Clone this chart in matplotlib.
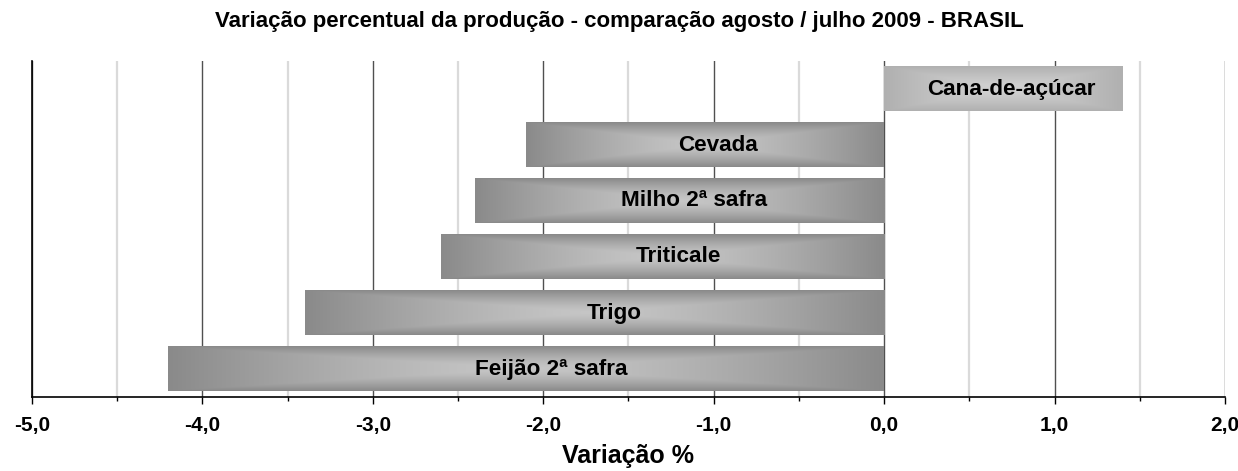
import numpy as np
import matplotlib
matplotlib.use('Agg')
import matplotlib.pyplot as plt
from matplotlib.ticker import FixedLocator, MultipleLocator

# ---- data ----
categories = ['Cana-de-açúcar', 'Cevada', 'Milho 2ª safra', 'Triticale', 'Trigo', 'Feijão 2ª safra']
values = [1.4, -2.1, -2.4, -2.6, -3.4, -4.2]
xticks = [-5, -4, -3, -2, -1, 0, 1, 2]
xtick_labels = ['-5,0', '-4,0', '-3,0', '-2,0', '-1,0', '0,0', '1,0', '2,0']
title = 'Variação percentual da produção - comparação agosto / julho 2009 - BRASIL'
xlabel = 'Variação %'

plt.rcParams['font.family'] = ['Liberation Sans', 'DejaVu Sans']

W, H = 1238, 471
fig = plt.figure(figsize=(W / 100, H / 100), dpi=100)
ax = fig.add_axes([32 / W, 1 - 397 / H, (1225 - 32) / W, (397 - 61) / H])

y = np.arange(len(categories))
bars = ax.barh(y, values, height=0.786, color='none', edgecolor='none', zorder=2)


def gradient(edge, center, nx=300, ny=60, p=1.0):
    u = np.linspace(-1, 1, nx)
    v = np.linspace(-1, 1, ny)
    U, V = np.meshgrid(u, v)
    t = np.maximum(np.abs(U), np.abs(V)) ** p
    e = np.array(matplotlib.colors.to_rgb(edge))
    c = np.array(matplotlib.colors.to_rgb(center))
    return c[None, None, :] + (e - c)[None, None, :] * t[:, :, None]


for bar, val in zip(bars, values):
    x0, y0 = bar.get_x(), bar.get_y()
    w, h = bar.get_width(), bar.get_height()
    if val >= 0:
        img = gradient('#b0b0b0', '#d2d2d2', p=1.3)
    else:
        img = gradient('#8a8a8a', '#c6c6c6', p=1.4)
    ax.imshow(img, extent=(x0, x0 + w, y0 + h, y0), aspect='auto',
              interpolation='bilinear', zorder=2)

for val, yy, name in zip(values, y, categories):
    ax.text(val / 2 + 0.035 * abs(val), yy, name, ha='center', va='center',
            fontsize=16.2, fontweight='bold', color='black', zorder=3)

ax.set_xlim(-5, 2)
ax.set_ylim(len(categories) - 0.5, -0.5)
ax.set_aspect('auto')

ax.xaxis.set_major_locator(FixedLocator(xticks))
ax.set_xticklabels(xtick_labels, fontsize=15, fontweight='bold')
ax.xaxis.set_minor_locator(MultipleLocator(0.5))
ax.set_yticks([])

ax.grid(which='major', axis='x', color='#505050', linewidth=1.0, zorder=0)
ax.grid(which='minor', axis='x', color='#dadada', linewidth=1.6, zorder=0)
ax.set_axisbelow(True)

for s in ['top', 'right']:
    ax.spines[s].set_visible(False)
ax.spines['left'].set_color('black')
ax.spines['bottom'].set_color('black')
ax.spines['left'].set_linewidth(1.2)
ax.spines['bottom'].set_linewidth(1.2)
ax.tick_params(axis='x', which='major', direction='out', length=5, width=1, pad=9, colors='black')
ax.tick_params(axis='x', which='minor', direction='out', length=3, width=1, colors='black')

ax.set_xlabel(xlabel, fontsize=18, fontweight='bold', labelpad=6)
fig.text(0.5, 1 - 22 / H, title, ha='center', va='center', fontsize=16, fontweight='bold')

fig.savefig('out.png', dpi=100)
